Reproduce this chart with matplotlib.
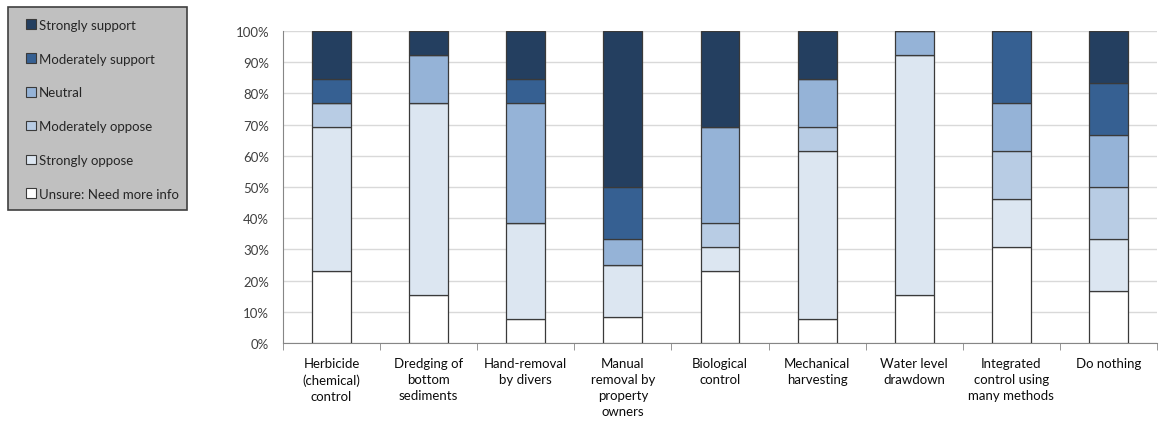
import matplotlib
matplotlib.use('Agg')
import matplotlib.pyplot as plt
from matplotlib.patches import Patch, Rectangle
from matplotlib.ticker import PercentFormatter, FixedLocator
import numpy as np

plt.rcParams['font.family'] = ['Lato', 'DejaVu Sans']

categories = ['Herbicide\n(chemical)\ncontrol', 'Dredging of\nbottom\nsediments', 'Hand-removal\nby divers',
              'Manual\nremoval by\nproperty\nowners', 'Biological\ncontrol', 'Mechanical\nharvesting',
              'Water level\ndrawdown', 'Integrated\ncontrol using\nmany methods', 'Do nothing']

# percent of responses, bottom of stack first
unsure       = [23.1, 15.4,  7.7,  8.3, 23.1,  7.7, 15.4, 30.8, 16.7]
str_oppose   = [46.2, 61.5, 30.8, 16.7,  7.7, 53.8, 76.9, 15.4, 16.6]
mod_oppose   = [ 7.7,  0.0,  0.0,  0.0,  7.7,  7.7,  0.0, 15.4, 16.7]
neutral      = [ 0.0, 15.4, 38.5,  8.3, 30.8, 15.4,  7.7, 15.3, 16.7]
mod_support  = [ 7.6,  0.0,  7.6, 16.7,  0.0,  0.0,  0.0, 23.1, 16.6]
str_support  = [15.4,  7.7, 15.4, 50.0, 30.7, 15.4,  0.0,  0.0, 16.7]

series = [unsure, str_oppose, mod_oppose, neutral, mod_support, str_support]
labels = ['Unsure: Need more info', 'Strongly oppose', 'Moderately oppose', 'Neutral',
          'Moderately support', 'Strongly support']
colors = ['#FFFFFF', '#DCE6F1', '#B8CCE4', '#95B3D7', '#366092', '#243F60']

fig = plt.figure(figsize=(11.69, 4.31), dpi=100)
ax = fig.add_axes([283/1169, 1-344/431, 874/1169, 312/431])

x = np.arange(len(categories))
bottom = np.zeros(len(categories))
for vals, col in zip(series, colors):
    vals = np.array(vals) / 100.0
    ax.bar(x, vals, 0.40, bottom=bottom, color=col, edgecolor='#3A3A3A', linewidth=0.9, zorder=3)
    bottom += vals

ax.set_xlim(-0.5, len(categories) - 0.5)
ax.set_ylim(0, 1)
ax.yaxis.set_major_locator(FixedLocator(np.linspace(0, 1, 11)))
ax.yaxis.set_major_formatter(PercentFormatter(1.0, decimals=0))
ax.grid(axis='y', color='#D9D9D9', linewidth=1, zorder=0)
for s in ['top', 'right']:
    ax.spines[s].set_visible(False)
ax.spines['left'].set_color('#868686')
ax.spines['bottom'].set_color('#868686')

ax.set_xticks(x)
ax.set_xticklabels(categories, fontsize=9.5, color='#0D0D0D', linespacing=1.42, va='top')
ax.tick_params(axis='x', length=0, pad=10)
ax.set_xticks(np.arange(len(categories) + 1) - 0.5, minor=True)
ax.tick_params(axis='x', which='minor', length=5, color='#868686')
ax.tick_params(axis='y', length=0, labelsize=9.5, labelcolor='#404040', pad=10)

# legend in a grey box on the left
fig.patches.append(Rectangle((8/1169, 1-211/431), 179/1169, 203/431, transform=fig.transFigure,
                             facecolor='#C0C0C0', edgecolor='#404040', linewidth=1.2))
handles = [Patch(facecolor=c, edgecolor='#3A3A3A', linewidth=0.8, label=l)
           for c, l in zip(colors[::-1], labels[::-1])]
fig.legend(handles=handles, loc='upper left', bbox_to_anchor=(14/1169, 1-8/431), frameon=False,
           fontsize=9.5, handlelength=0.75, handleheight=0.75, handletextpad=0.25, labelspacing=1.65,
           labelcolor='#262626')

fig.savefig('out.png', dpi=100)
